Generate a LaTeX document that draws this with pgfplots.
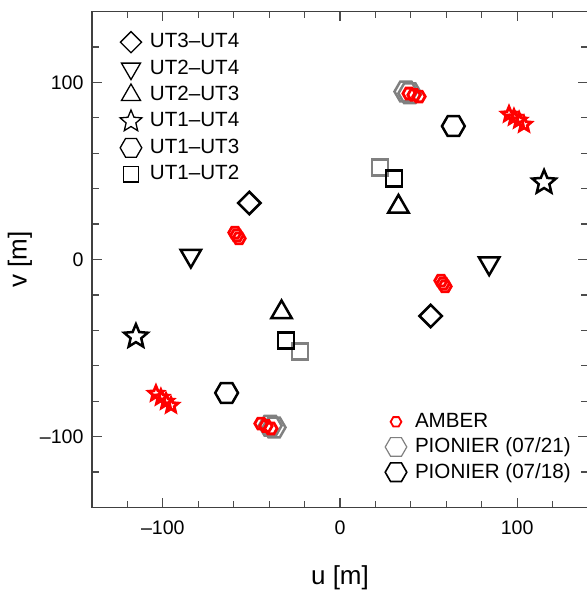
\documentclass[border=0pt]{standalone}
\usepackage{fontspec}
\setmainfont{Liberation Sans}
\usepackage{pgfplots}
\pgfplotsset{compat=1.18}

\pgfdeclareplotmark{hexa}{%
 \pgfpathmoveto{\pgfqpointpolar{0}{\pgfplotmarksize}}%
 \pgfpathlineto{\pgfqpointpolar{60}{\pgfplotmarksize}}%
 \pgfpathlineto{\pgfqpointpolar{120}{\pgfplotmarksize}}%
 \pgfpathlineto{\pgfqpointpolar{180}{\pgfplotmarksize}}%
 \pgfpathlineto{\pgfqpointpolar{240}{\pgfplotmarksize}}%
 \pgfpathlineto{\pgfqpointpolar{300}{\pgfplotmarksize}}%
 \pgfpathclose\pgfusepathqstroke}
\pgfdeclareplotmark{starp}{%
 \pgfpathmoveto{\pgfpointpolar{90}{\pgfplotmarksize}}%
 \pgfpathlineto{\pgfpointpolar{126}{0.45\pgfplotmarksize}}%
 \pgfpathlineto{\pgfpointpolar{162}{\pgfplotmarksize}}%
 \pgfpathlineto{\pgfpointpolar{198}{0.45\pgfplotmarksize}}%
 \pgfpathlineto{\pgfpointpolar{234}{\pgfplotmarksize}}%
 \pgfpathlineto{\pgfpointpolar{270}{0.45\pgfplotmarksize}}%
 \pgfpathlineto{\pgfpointpolar{306}{\pgfplotmarksize}}%
 \pgfpathlineto{\pgfpointpolar{342}{0.45\pgfplotmarksize}}%
 \pgfpathlineto{\pgfpointpolar{18}{\pgfplotmarksize}}%
 \pgfpathlineto{\pgfpointpolar{54}{0.45\pgfplotmarksize}}%
 \pgfpathclose\pgfusepathqstroke}
\pgfdeclareplotmark{diam}{%
 \pgfpathmoveto{\pgfqpoint{0pt}{\pgfplotmarksize}}%
 \pgfpathlineto{\pgfqpoint{\pgfplotmarksize}{0pt}}%
 \pgfpathlineto{\pgfqpoint{0pt}{-\pgfplotmarksize}}%
 \pgfpathlineto{\pgfqpoint{-\pgfplotmarksize}{0pt}}%
 \pgfpathclose\pgfusepathqstroke}
\pgfdeclareplotmark{triup}{%
 \pgfpathmoveto{\pgfqpointpolar{90}{\pgfplotmarksize}}%
 \pgfpathlineto{\pgfqpointpolar{210}{\pgfplotmarksize}}%
 \pgfpathlineto{\pgfqpointpolar{330}{\pgfplotmarksize}}%
 \pgfpathclose\pgfusepathqstroke}
\pgfdeclareplotmark{tridown}{%
 \pgfpathmoveto{\pgfqpointpolar{270}{\pgfplotmarksize}}%
 \pgfpathlineto{\pgfqpointpolar{30}{\pgfplotmarksize}}%
 \pgfpathlineto{\pgfqpointpolar{150}{\pgfplotmarksize}}%
 \pgfpathclose\pgfusepathqstroke}
\pgfdeclareplotmark{sq}{%
 \pgfpathrectangle{\pgfqpoint{-\pgfplotmarksize}{-\pgfplotmarksize}}{\pgfqpoint{2\pgfplotmarksize}{2\pgfplotmarksize}}%
 \pgfusepathqstroke}

\definecolor{pgray}{RGB}{128,128,128}
\definecolor{ared}{RGB}{255,0,0}

\begin{document}
\begin{tikzpicture}
\pgfplotsset{
  common/.style={
    scale only axis, width=248pt, height=248pt,
    xmin=-140, xmax=140, ymin=-140, ymax=140,
  },
}
\begin{axis}[common,
  xtick={-100,0,100}, ytick={-100,0,100},
  xticklabels={–100,0,100}, yticklabels={–100,0,100},
  minor xtick={-140,-120,...,140}, minor ytick={-140,-120,...,140},
  tick align=inside, tick pos=both,
  xticklabel pos=lower, yticklabel pos=left,
  major tick length=5pt, minor tick length=3.5pt,
  tick style={line width=0.6pt, black!70},
  axis line style={line width=0.8pt, black!75},
  ticklabel style={font=\fontsize{9.8}{12}\selectfont},
  xticklabel style={yshift=-3.2pt},
  yticklabel style={xshift=-0.7pt},
  xlabel={u [m]}, ylabel={v [m]},
  xlabel style={at={(axis description cs:0.5,-0.1421)}, anchor=center, font=\fontsize{13}{15}\selectfont},
  ylabel style={at={(axis description cs:-0.1452,0.5)}, anchor=center, font=\fontsize{13}{15}\selectfont},
  legend cell align=left,
  legend image code/.code={\path[draw=none,fill=none] (-9.5pt,-6.6pt) (9.5pt,6.6pt); \draw[#1] plot coordinates {(0pt,0pt)};},
  legend style={at={(axis description cs:0.0403,0.9647)}, anchor=north west, draw=none, fill=none,
    inner sep=0pt, outer sep=0pt, row sep=0pt, nodes={inner sep=0pt},
    font=\fontsize{10.3}{12}\selectfont},
]
% PIONIER 07/21 (gray)
\addplot[forget plot, only marks, mark=hexa, mark size=5.7pt, line width=1.25pt, pgray]
  coordinates {(37.2,94.8) (39.4,93.8) (-37.2,-94.8) (-39.4,-93.8)};
\addplot[forget plot, only marks, mark=sq, mark size=4pt, line width=1.25pt, pgray]
  coordinates {(22.6,51.8) (-22.6,-51.8)};
% PIONIER 07/18 (black)
\addplot[forget plot, only marks, mark=diam, mark size=5.6pt, line width=1.25pt, black]
  coordinates {(-51.2,31.9) (51.2,-31.9)};
\addplot[forget plot, only marks, mark=tridown, mark size=5.9pt, line width=1.25pt, black]
  coordinates {(-84.2,2.15) (84.2,-2.15)};
\addplot[forget plot, only marks, mark=triup, mark size=5.9pt, line width=1.25pt, black]
  coordinates {(33,29.8) (-33,-29.8)};
\addplot[forget plot, only marks, mark=starp, mark size=6.2pt, line width=1.25pt, black]
  coordinates {(115.2,43.5) (-115.2,-43.5)};
\addplot[forget plot, only marks, mark=hexa, mark size=5.7pt, line width=1.25pt, black]
  coordinates {(64,75.3) (-64,-75.3)};
\addplot[forget plot, only marks, mark=sq, mark size=4pt, line width=1.25pt, black]
  coordinates {(30.6,45.7) (-30.6,-45.7)};
% AMBER (red)
\addplot[forget plot, only marks, mark=hexa, mark size=3.1pt, line width=1.4pt, ared]
  coordinates {(39,93.7) (41.8,92.9) (44.6,92) (-44.6,-92.6) (-41.8,-94) (-39,-95.4)
               (-59.3,15.2) (-58.2,13.6) (-57,11.9) (57,-11.9) (58.2,-13.6) (59.3,-15.2)};
\addplot[forget plot, only marks, mark=starp, mark size=3.8pt, line width=1.4pt, ared]
  coordinates {(95.4,81.9) (98.2,80.2) (101.1,78.5) (103.9,76.2)
               (-103.9,-75.7) (-101.1,-77.9) (-98.2,-80.2) (-95.4,-82.4)};
% legend 1
\addlegendimage{only marks, mark=diam, mark size=5.3pt, line width=0.65pt, black}
\addlegendentry{UT3–UT4}
\addlegendimage{only marks, mark=tridown, mark size=5.5pt, line width=0.65pt, black}
\addlegendentry{UT2–UT4}
\addlegendimage{only marks, mark=triup, mark size=5.5pt, line width=0.65pt, black}
\addlegendentry{UT2–UT3}
\addlegendimage{only marks, mark=starp, mark size=5.7pt, line width=0.65pt, black}
\addlegendentry{UT1–UT4}
\addlegendimage{only marks, mark=hexa, mark size=5.4pt, line width=0.65pt, black}
\addlegendentry{UT1–UT3}
\addlegendimage{only marks, mark=sq, mark size=3.9pt, line width=0.65pt, black}
\addlegendentry{UT1–UT2}
\end{axis}
\begin{axis}[common, hide axis,
  legend cell align=left,
  legend image code/.code={\path[draw=none,fill=none] (-9.5pt,-6.3pt) (9.5pt,6.3pt); \draw[#1] plot coordinates {(0pt,0pt)};},
  legend style={at={(axis description cs:0.5746,0.1982)}, anchor=north west, draw=none, fill=none,
    inner sep=0pt, outer sep=0pt, row sep=0pt, nodes={inner sep=0pt},
    font=\fontsize{10.3}{12}\selectfont},
]
\addlegendimage{only marks, mark=hexa, mark size=2.7pt, line width=0.9pt, ared}
\addlegendentry{AMBER}
\addlegendimage{only marks, mark=hexa, mark size=5.4pt, line width=0.6pt, pgray}
\addlegendentry{PIONIER (07/21)}
\addlegendimage{only marks, mark=hexa, mark size=5.4pt, line width=0.8pt, black}
\addlegendentry{PIONIER (07/18)}
\end{axis}
\pgfresetboundingbox
\path[use as bounding box] (-46pt,-43.25pt) rectangle (247.5pt,253.75pt);
\end{tikzpicture}
\end{document}
